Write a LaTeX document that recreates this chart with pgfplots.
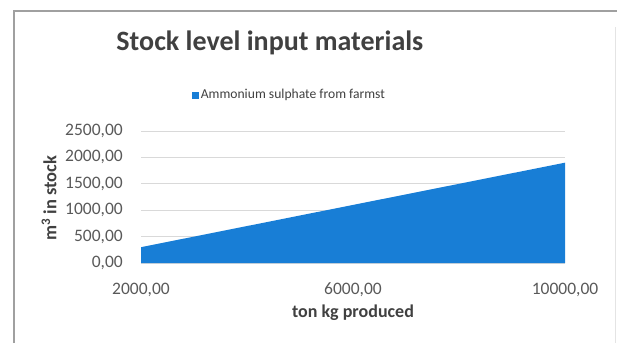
\documentclass[border=0pt]{standalone}
\usepackage{pgfplots}
\pgfplotsset{compat=1.18}
\usepackage{fontspec}
\setmainfont{Carlito}
\definecolor{areablue}{RGB}{24,126,214}
\definecolor{ticktext}{RGB}{89,89,89}
\definecolor{titletext}{RGB}{64,64,64}
\definecolor{gridgray}{RGB}{217,217,217}
\definecolor{framegray}{RGB}{160,160,160}

\begin{document}
\begin{tikzpicture}[x=1pt,y=1pt]
  \useasboundingbox (0,0) rectangle (617,-343);
  % chart frame
  \draw[framegray,line width=1.2pt] (14,-343) -- (14,-11) -- (617,-11);
  \draw[gridgray!70,line width=0.8pt] (615,-27) -- (615,-343);

  \begin{axis}[
    at={(141pt,-263pt)}, anchor=south west,
    scale only axis, width=424pt, height=132pt,
    xmin=2000, xmax=10000, ymin=0, ymax=2500,
    xtick={2000,6000,10000}, ytick={0,500,...,2500},
    scaled x ticks=false, scaled y ticks=false,
    ymajorgrids, grid style={gridgray,line width=0.7pt},
    axis line style={draw=none}, tick style={draw=none},
    tick label style={font=\fontsize{17.5}{19}\selectfont, text=ticktext, inner sep=0pt},
    /pgf/number format/assume math mode=true,
    /pgf/number format/.cd, fixed, fixed zerofill, precision=2, use comma, 1000 sep={},
    /pgfplots/.cd,
    xticklabel style={anchor=center, yshift=-27pt},
    yticklabel style={anchor=east, xshift=-18pt},
    xlabel={\textbf{ton kg produced}},
    xlabel style={font=\fontsize{18}{20}\selectfont, text=titletext,
      at={(axis description cs:0.5,0)}, anchor=center, yshift=-50pt},
    ylabel={\textbf{m\textsuperscript{3} in stock}},
    ylabel style={font=\fontsize{18.5}{20}\selectfont, text=titletext,
      at={(axis description cs:0,0.49)}, anchor=center, yshift=92pt},
    title={\textbf{Stock level input materials}},
    title style={font=\fontsize{28}{32}\selectfont, text=titletext,
      at={(axis description cs:0.304,1)}, anchor=center, yshift=82pt},
    legend style={at={(0.35,1)}, anchor=center, yshift=36pt, draw=none, fill=none,
      font=\fontsize{13.6}{15}\selectfont, text=titletext,
      legend cell align=left},
    legend image code/.code={\fill[areablue] (0pt,-3.5pt) rectangle (7pt,3.5pt);},
  ]
    \addplot[fill=areablue, draw=none] coordinates {
      (2000,300) (3000,500) (4000,700) (5000,900) (6000,1100)
      (7000,1300) (8000,1500) (9000,1700) (10000,1900)
    } \closedcycle;
    \addlegendentry{Ammonium sulphate from farmst}
  \end{axis}
\end{tikzpicture}
\end{document}
